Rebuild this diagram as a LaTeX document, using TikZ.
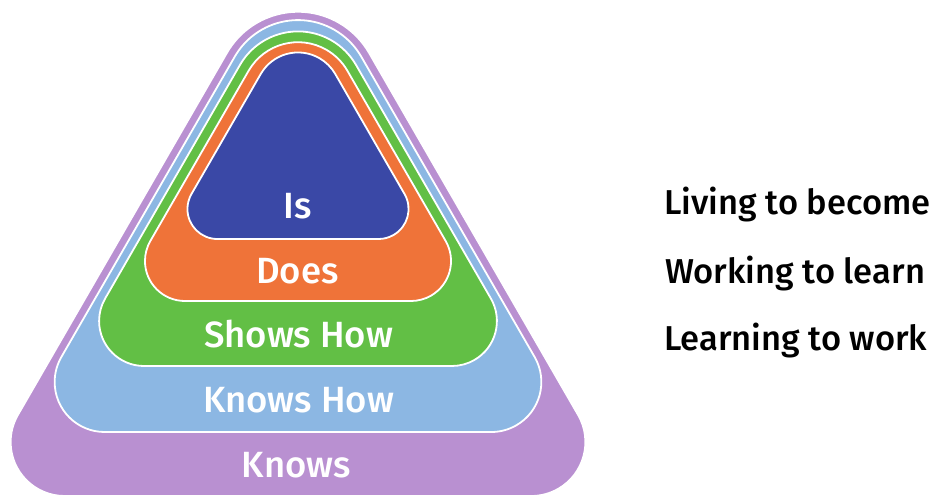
\documentclass[tikz,border=0pt]{standalone}
\usepackage{fontspec}
\setmainfont{Fira Sans}
\newfontfamily\fmed{Fira Sans Medium}
\usetikzlibrary{calc}
\definecolor{cpurple}{HTML}{B990D1}
\definecolor{clblue}{HTML}{8CB7E3}
\definecolor{cgreen}{HTML}{62BF45}
\definecolor{corange}{HTML}{EF7339}
\definecolor{cdblue}{HTML}{3A48A6}
% #1 fill colour, #2 half width at y=200 (px), #3 base y (px, downward), #4 top radius, #5 bottom radius
\newcommand\pyrlayer[5]{%
 \pgfmathsetmacro\pya{200-#2/0.57735}%
 \pgfmathsetmacro\ptcy{499-\pya-2*#4}%
 \pgfmathsetmacro\phwb{#2+0.57735*(#3-200)}%
 \pgfmathsetmacro\pbcy{499-#3+#5}%
 \pgfmathsetmacro\pblx{298-\phwb+1.73205*#5}%
 \pgfmathsetmacro\pbrx{298+\phwb-1.73205*#5}%
 \draw[layer,fill=#1] ($(\pblx,\pbcy)+(150:#5)$) -- ($(298,\ptcy)+(150:#4)$)
   arc[start angle=150,end angle=30,radius=#4]
   -- ($(\pbrx,\pbcy)+(30:#5)$) arc[start angle=30,end angle=-90,radius=#5]
   -- ($(\pblx,\pbcy)+(-90:#5)$) arc[start angle=270,end angle=150,radius=#5] -- cycle;}
\tikzset{
  layer/.style={draw=white, line width=1.8pt, line join=round},
  lbl/.style={font=\fmed\fontsize{36.5}{42}\selectfont, text=white, anchor=base, inner sep=0pt},
  side/.style={font=\fmed\fontsize{34.5}{40}\selectfont, text=black, anchor=base west, inner sep=0pt}
}
\begin{document}
\begin{tikzpicture}[x=1pt,y=1pt]
\useasboundingbox (0,0) rectangle (940,499);
\fill[white] (0,0) rectangle (940,499);
\pyrlayer{cpurple}{156}{496}{82}{54}
\pyrlayer{clblue}{146}{432}{73}{50}
\pyrlayer{cgreen}{136}{366}{67}{45}
\pyrlayer{corange}{124}{301}{57}{40}
\pyrlayer{cdblue}{110}{239}{43}{30}
\node[lbl] (is) at (297.5,280) {Is};
\node[lbl] (does) at (297.5,216) {Does};
\node[lbl] (shows) at (298.5,152) {Shows How};
\node[lbl] (knowshow) at (298.5,87) {Knows How};
\node[lbl] (knows) at (296.5,22) {Knows};
\node[side] (living) at (664,285) {Living to become};
\node[side] (working) at (665,216) {Working to learn};
\node[side] (learning) at (664,149) {Learning to work};
\end{tikzpicture}
\end{document}
